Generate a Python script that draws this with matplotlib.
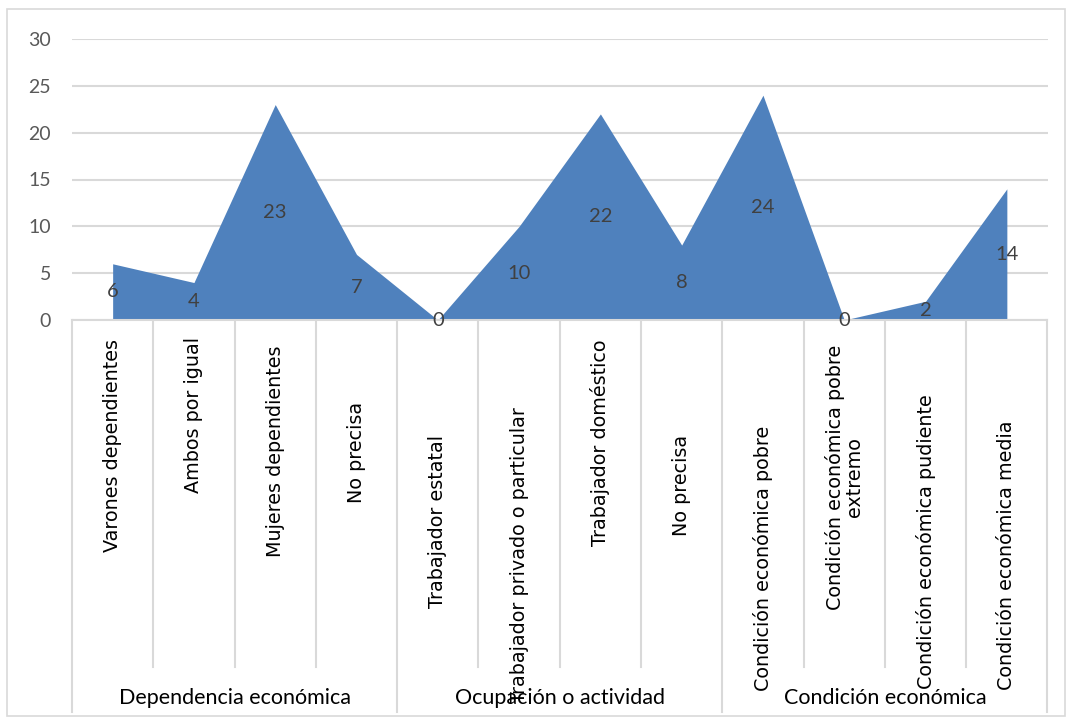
import matplotlib
matplotlib.use("Agg")
import matplotlib.pyplot as plt
import matplotlib.transforms as mtransforms

categories = [
    "Varones dependientes", "Ambos por igual", "Mujeres dependientes", "No precisa",
    "Trabajador estatal", "Trabajador privado o particular", "Trabajador doméstico", "No precisa",
    "Condición económica pobre", "Condición económica pobre\nextremo",
    "Condición económica pudiente", "Condición económica media",
]
values = [6, 4, 23, 7, 0, 10, 22, 8, 24, 0, 2, 14]
groups = ["Dependencia económica", "Ocupación o actividad", "Condición económica"]
group_sizes = [4, 4, 4]
yticks = [0, 5, 10, 15, 20, 25, 30]

# vertical centre of each rotated category label (pixels from top of figure)
label_center_px = [446, 415, 451, 452, 521, 555, 443, 485, 558, 477, 542, 555]

W, H = 1071, 720
fig = plt.figure(figsize=(W / 100, H / 100), dpi=100)
ax_left, ax_right, ax_top, ax_bot = 72, 1047.5, 39, 320
ax = fig.add_axes([ax_left / W, 1 - ax_bot / H, (ax_right - ax_left) / W, (ax_bot - ax_top) / H])
ax_h = ax_bot - ax_top

grid_c = "#D9D9D9"
x = list(range(len(values)))
ax.fill_between(x, values, 0, color="#4F81BD", linewidth=0, zorder=2)
ax.set_xlim(-0.5, len(values) - 0.5)
ax.set_ylim(0, 30)
ax.set_yticks(yticks)
ax.yaxis.grid(True, color=grid_c, linewidth=1.5, zorder=0)
ax.set_axisbelow(True)
for s in ["top", "right", "left"]:
    ax.spines[s].set_visible(False)
ax.spines["bottom"].set_color(grid_c)
ax.spines["bottom"].set_linewidth(1.5)
ax.tick_params(axis="y", length=0, labelsize=14, labelcolor="#595959", pad=15)
ax.set_xticks([])
for lbl in ax.get_yticklabels():
    lbl.set_fontfamily("Lato")

# data labels
for xi, v in zip(x, values):
    ax.text(xi, v / 2, str(v), ha="center", va="center", fontsize=14.5,
            color="#404040", family="Lato", zorder=3)

trans = mtransforms.blended_transform_factory(ax.transData, ax.transAxes)

def px2ax(y):
    return (ax_bot - y) / ax_h

# category separators
bounds = [0]
for g in group_sizes:
    bounds.append(bounds[-1] + g)
for i in range(len(values) + 1):
    xb = i - 0.5
    y_end = 712 if i in bounds else 667
    ax.plot([xb, xb], [0, px2ax(y_end)], color=grid_c, linewidth=1.5,
            transform=trans, clip_on=False, zorder=1)

# category labels
for xi, (lab, yc) in enumerate(zip(categories, label_center_px)):
    ax.text(xi, px2ax(yc), lab, rotation=90, ha="center", va="center",
            multialignment="center", fontsize=13.8, color="black",
            family="DejaVu Sans", transform=trans, linespacing=1.0)

# group labels
start = 0
for g, n in zip(groups, group_sizes):
    xc = start + (n - 1) / 2
    ax.text(xc, px2ax(698), g, ha="center", va="center", fontsize=15.5,
            color="black", family="Lato", transform=trans)
    start += n

# chart border
fig.patches.append(plt.Rectangle((7 / W, 1 - 716 / H), (1065 - 7) / W, (716 - 9) / H,
                                 transform=fig.transFigure, fill=False,
                                 edgecolor=grid_c, linewidth=1.2))

fig.savefig("out.png", dpi=100)
